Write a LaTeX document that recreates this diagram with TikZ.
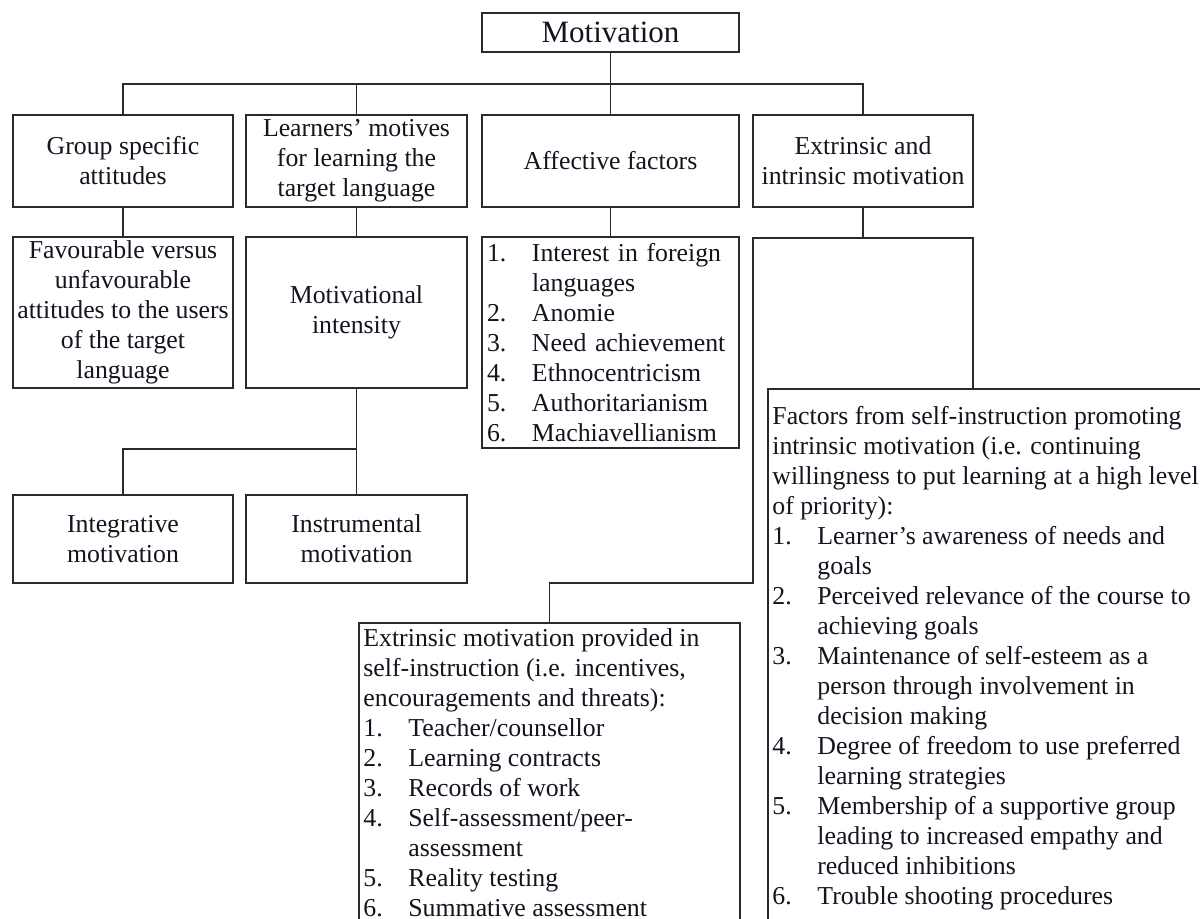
\documentclass[tikz,border=0pt]{standalone}
\usepackage{fontspec}
\setmainfont{Liberation Serif}
\usetikzlibrary{calc}
\newcommand{\txtf}{\fontsize{12.9pt}{15pt}\selectfont}
\newcommand{\bigf}{\fontsize{15.5pt}{18pt}\selectfont}
\newcommand{\nm}[1]{\makebox[22.5pt][l]{#1}}
\newcommand{\ind}{\hspace*{22.5pt}}
\definecolor{lc}{HTML}{2A2A2A}
\definecolor{tc}{HTML}{141420}
\tikzset{
  ln/.style={draw=lc, line width=0.9pt},
  bx/.style={draw=lc, line width=0.9pt, inner sep=0pt, align=center, font=\txtf, text=tc},
  frame/.style={draw=lc, line width=0.9pt, inner sep=0pt, anchor=north west},
  txt/.style={inner sep=0pt, anchor=north west, align=left, font=\txtf, text=tc}
}
\begin{document}
\begin{tikzpicture}[x=0.5pt,y=-0.5pt]
\useasboundingbox (0,0) rectangle (1200,919);
\clip (0,0) rectangle (1200,919);
\fill[white] (0,0) rectangle (1200,919);
% top
\node[bx, font=\bigf, minimum width=128.5pt, minimum height=19.5pt] (mot) at (610.5,32.5) {Motivation};
% row 1
\node[bx, minimum width=110pt, minimum height=46pt] (grp) at (123,161) {Group specific\\attitudes};
\node[bx, minimum width=110.5pt, minimum height=46pt] (lrn) at (356.5,161) {Learners’ motives\\for learning the\\target language};
\node[bx, minimum width=128.5pt, minimum height=46pt] (aff) at (610.5,161) {Affective factors};
\node[bx, minimum width=110pt, minimum height=46pt] (ext) at (863,161) {Extrinsic and\\intrinsic motivation};
% row 2
\node[bx, minimum width=110pt, minimum height=75.5pt] (fav) at (123,312.5) {Favourable versus\\unfavourable\\attitudes to the users\\of the target\\language};
\node[bx, minimum width=110.5pt, minimum height=75.5pt] (mi) at (356.5,312.5) {Motivational\\intensity};
\node[bx, align=left, text width=123.5pt, inner xsep=2.5pt, minimum height=105.5pt] (lst) at (610.5,342.5)
 {\nm{1.}Interest in foreign\\\ind languages\\\nm{2.}Anomie\\\nm{3.}Need achievement\\\nm{4.}Ethnocentricism\\\nm{5.}Authoritarianism\\\nm{6.}Machiavellianism};
% row 3
\node[bx, minimum width=110pt, minimum height=44pt] (int) at (123,539) {Integrative\\motivation};
\node[bx, minimum width=110.5pt, minimum height=44pt] (ins) at (356.5,539) {Instrumental\\motivation};
% big lower boxes
\node[frame, minimum width=250pt, minimum height=300pt] (fac) at (767,388) {};
\node[txt] (facT) at (772,406) {Factors from self-instruction promoting\\intrinsic motivation (i.e. continuing\\willingness to put learning at a high level\\of priority):\\
\nm{1.}Learner’s awareness of needs and\\\ind goals\\
\nm{2.}Perceived relevance of the course to\\\ind achieving goals\\
\nm{3.}Maintenance of self-esteem as a\\\ind person through involvement in\\\ind decision making\\
\nm{4.}Degree of freedom to use preferred\\\ind learning strategies\\
\nm{5.}Membership of a supportive group\\\ind leading to increased empathy and\\\ind reduced inhibitions\\
\nm{6.}Trouble shooting procedures};
\node[frame, minimum width=190.5pt, minimum height=160pt] (xm) at (358,622) {};
\node[txt] (xmT) at (363,628) {Extrinsic motivation provided in\\self-instruction (i.e. incentives,\\encouragements and threats):\\
\nm{1.}Teacher/counsellor\\\nm{2.}Learning contracts\\\nm{3.}Records of work\\\nm{4.}Self-assessment/peer-\\\ind assessment\\\nm{5.}Reality testing\\\nm{6.}Summative assessment};
% connectors
\coordinate (b1) at ($(mot.south)+(0,31)$);
\draw[ln] (mot.south) -- (b1);
\foreach \n in {grp,lrn,aff,ext} \draw[ln] (\n.north) |- (b1);
\draw[ln] (grp.south) -- (fav.north);
\draw[ln] (lrn.south) -- (mi.north);
\draw[ln] (aff.south) -- (lst.north);
\coordinate (b2) at ($(mi.south)+(0,60)$);
\draw[ln] (mi.south) -- (b2);
\draw[ln] (int.north) |- (b2);
\draw[ln] (ins.north) -- (b2);
\coordinate (fL) at (753,238);
\coordinate (fR) at (973,238);
\coordinate (jn) at (753,583);
\draw[ln] (ext.south) -- (ext.south |- fL);
\draw[ln] (xm.north) |- (jn) -- (fL) -- (fR) -- (fR |- fac.north);
\end{tikzpicture}
\end{document}
